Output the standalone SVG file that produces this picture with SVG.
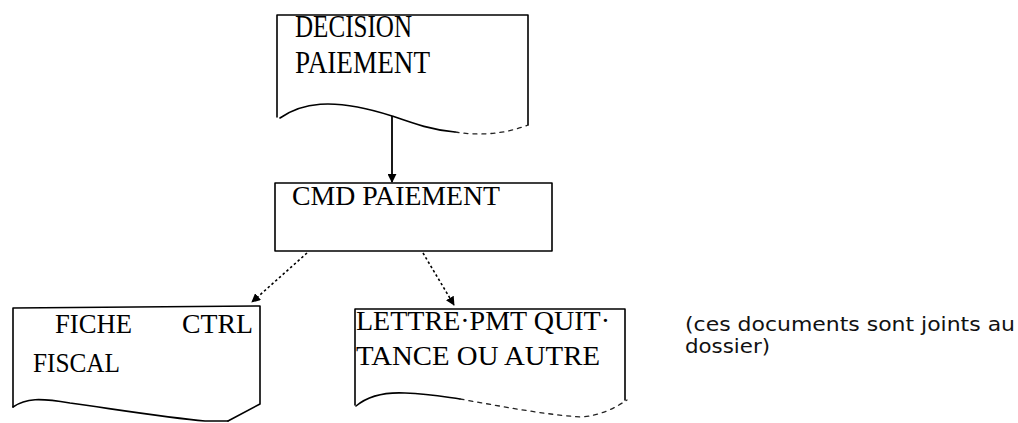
<svg xmlns="http://www.w3.org/2000/svg" width="1018" height="423" viewBox="0 0 1018 423">
  <defs>
    <style>
      .edge { fill: none; stroke: #000; stroke-width: 1.6; stroke-linejoin: round; stroke-linecap: round; }
      .faint { fill: none; stroke: #222; stroke-width: 1.3; stroke-dasharray: 4 5; stroke-linecap: round; }
      .dots { fill: none; stroke: #000; stroke-width: 1.6; stroke-dasharray: 2.5 2.5; }
      .solid { fill: none; stroke: #000; stroke-width: 1.8; }
      .lbl { font-family: "Liberation Serif", "Times New Roman", serif; font-size: 27px; fill: #000; }
      .big { font-family: "Liberation Serif", "Times New Roman", serif; font-size: 32px; fill: #000; }
      .note { font-family: "DejaVu Sans Condensed", "DejaVu Sans", "Liberation Sans", sans-serif; font-stretch: condensed; font-size: 19px; fill: #111; }
    </style>
    <marker id="head" viewBox="0 0 10 10" refX="9" refY="5" markerWidth="9" markerHeight="9" markerUnits="userSpaceOnUse" orient="auto">
      <path d="M0,0 L10,5 L0,10 Z" fill="#000"/>
    </marker>
  </defs>

  <rect width="1018" height="423" fill="#fff"/>

  <!-- document: DECISION PAIEMENT -->
  <g id="node-decision">
    <path class="edge" d="M277,117 L277,15 L528,15 L528,125"/>
    <path class="edge" d="M280,118 C300,104 330,96 392,116 C415,124 432,130 455,132"/>
    <path class="faint" d="M455,132 C480,136 505,134 528,125"/>
    <text class="big" x="295" y="37" textLength="117" lengthAdjust="spacingAndGlyphs">DECISION</text>
    <text class="big" x="295" y="73" textLength="135" lengthAdjust="spacingAndGlyphs">PAIEMENT</text>
  </g>

  <!-- process box: CMD PAIEMENT -->
  <g id="node-cmd">
    <rect class="edge" x="275" y="183" width="277" height="68"/>
    <text class="lbl" x="292" y="205" textLength="208" lengthAdjust="spacingAndGlyphs">CMD  PAIEMENT</text>
  </g>

  <!-- document: FICHE CTRL FISCAL -->
  <g id="node-fiche">
    <path class="edge" d="M13,407 L13,308 L260,306 L260,404 L228,421"/>
    <path class="edge" d="M13,407 C26,398 40,398 70,403 C120,410 170,418 205,421 L228,421"/>
    <text class="lbl" x="55" y="333" textLength="77" lengthAdjust="spacingAndGlyphs">FICHE</text>
    <text class="lbl" x="182" y="333" textLength="71" lengthAdjust="spacingAndGlyphs">CTRL</text>
    <text class="lbl" x="33" y="372" textLength="87" lengthAdjust="spacingAndGlyphs">FISCAL</text>
  </g>

  <!-- document: LETTRE-PMT QUITTANCE OU AUTRE -->
  <g id="node-lettre">
    <path class="edge" d="M355,405 L355,309 L625,309 L625,400"/>
    <path class="edge" d="M356,406 C368,396 385,392 405,393 C430,394 445,397 460,399"/>
    <path class="faint" d="M460,399 C500,406 540,414 580,417 C600,416 615,408 627,400"/>
    <text class="lbl" x="356" y="330" textLength="254" lengthAdjust="spacingAndGlyphs">LETTRE·PMT QUIT·</text>
    <text class="lbl" x="356" y="365" textLength="244" lengthAdjust="spacingAndGlyphs">TANCE OU AUTRE</text>
  </g>

  <!-- side note -->
  <g id="note">
    <text class="note" x="685" y="331" textLength="330" lengthAdjust="spacingAndGlyphs">(ces documents sont joints au</text>
    <text class="note" x="685" y="353" textLength="85" lengthAdjust="spacingAndGlyphs">dossier)</text>
  </g>

  <!-- connectors -->
  <g id="connectors">
    <line class="solid" x1="392" y1="116" x2="392" y2="182" marker-end="url(#head)"/>
    <line class="dots" x1="307" y1="253" x2="252" y2="302" marker-end="url(#head)"/>
    <line class="dots" x1="423" y1="253" x2="454" y2="305" marker-end="url(#head)"/>
  </g>
</svg>
